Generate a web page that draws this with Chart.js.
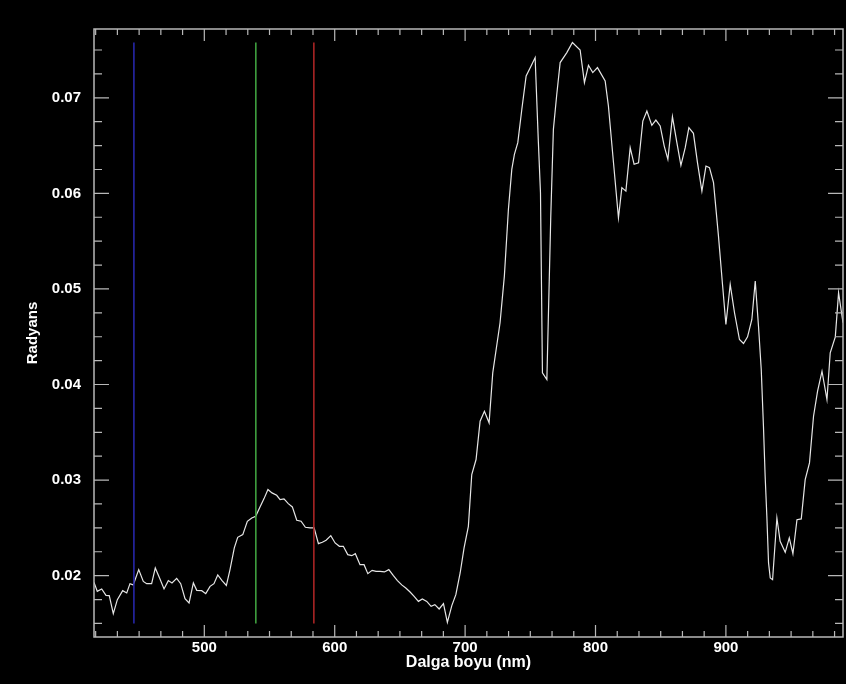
<!DOCTYPE html>
<html>
<head>
<meta charset="utf-8">
<script src="https://cdn.jsdelivr.net/npm/chart.js@4"></script>
<style>
    html, body { margin: 0; padding: 0; background: #000; }
    #spectrum { display: block; }
</style>
</head>
<body>
<canvas id="spectrum" width="846" height="684"></canvas>
<script>
// Spectrum (wavelength in nm, radiance)
const wavelengths = [
    415.4, 417.9, 421.3, 424.6, 427.1, 430.2, 433.3, 437.4, 440.5, 443.0,
    445.5, 449.7, 453.2, 455.8, 459.6, 462.4, 466.0, 469.1, 472.4, 475.2,
    478.8, 481.9, 485.2, 488.3, 491.6, 494.2, 498.0, 501.1, 504.4, 507.4,
    510.3, 513.6, 516.9, 519.7, 523.0, 525.6, 529.5, 533.0, 536.4, 539.4,
    542.7, 545.8, 548.8, 551.9, 555.5, 558.1, 561.1, 564.4, 567.5, 570.9,
    574.2, 577.5, 581.1, 584.2, 587.5, 590.5, 593.4, 597.0, 600.3, 603.6,
    606.6, 610.0, 613.1, 615.8, 619.4, 622.5, 625.4, 628.7, 631.7, 634.8,
    638.1, 641.5, 645.0, 648.1, 651.4, 654.5, 657.8, 660.9, 664.2, 667.2,
    670.6, 673.9, 676.8, 680.1, 683.4, 686.4, 689.8, 692.9, 696.2, 699.2,
    702.5, 705.1, 708.4, 711.5, 714.8, 718.4, 721.2, 726.8, 730.1, 733.2,
    735.8, 737.8, 740.4, 743.5, 746.8, 750.6, 753.7, 756.2, 757.8, 759.3,
    762.7, 765.7, 767.7, 770.3, 772.9, 778.0, 782.3, 788.2, 791.5, 794.6,
    797.9, 801.5, 807.4, 809.9, 813.8, 817.6, 820.2, 823.3, 826.6, 829.6,
    833.0, 836.3, 839.4, 843.2, 846.3, 849.6, 852.7, 855.5, 859.0, 862.4,
    865.5, 868.8, 871.6, 875.1, 878.2, 881.6, 884.7, 887.4, 890.5, 894.3,
    897.4, 900.0, 903.3, 906.6, 910.4, 913.5, 916.6, 919.9, 922.5, 925.0,
    927.1, 928.8, 930.1, 931.4, 932.7, 934.0, 935.8, 939.1, 941.6, 945.5,
    948.6, 951.4, 954.5, 957.8, 960.8, 964.1, 967.2, 970.3, 973.7, 977.5,
    980.0, 983.9, 986.4, 989.8
];
const radiance = [
    0.01930, 0.01836, 0.01861, 0.01794, 0.01791, 0.01602, 0.01749, 0.01843, 0.01819, 0.01916,
    0.01903, 0.02063, 0.01940, 0.01916, 0.01916, 0.02081, 0.01965, 0.01861, 0.01948, 0.01924,
    0.01972, 0.01916, 0.01759, 0.01714, 0.01924, 0.01846, 0.01843, 0.01812, 0.01888, 0.01916,
    0.02007, 0.01948, 0.01898, 0.02063, 0.02290, 0.02401, 0.02429, 0.02569, 0.02604, 0.02621,
    0.02719, 0.02806, 0.02901, 0.02866, 0.02841, 0.02796, 0.02803, 0.02754, 0.02719, 0.02579,
    0.02569, 0.02506, 0.02499, 0.02499, 0.02335, 0.02349, 0.02370, 0.02419, 0.02342, 0.02307,
    0.02307, 0.02220, 0.02209, 0.02230, 0.02115, 0.02115, 0.02021, 0.02055, 0.02045, 0.02045,
    0.02039, 0.02063, 0.02000, 0.01948, 0.01903, 0.01871, 0.01829, 0.01783, 0.01731, 0.01756,
    0.01731, 0.01679, 0.01696, 0.01651, 0.01707, 0.01511, 0.01686, 0.01801, 0.02028, 0.02290,
    0.02516, 0.03058, 0.03215, 0.03616, 0.03720, 0.03599, 0.04122, 0.04646, 0.05134, 0.05832,
    0.06251, 0.06408, 0.06531, 0.06880, 0.07228, 0.07333, 0.07421, 0.06531, 0.06007, 0.04122,
    0.04052, 0.05762, 0.06670, 0.07037, 0.07369, 0.07473, 0.07578, 0.07500, 0.07159, 0.07340,
    0.07264, 0.07316, 0.07176, 0.06914, 0.06321, 0.05745, 0.06060, 0.06024, 0.06478, 0.06304,
    0.06321, 0.06757, 0.06862, 0.06712, 0.06767, 0.06705, 0.06495, 0.06356, 0.06803, 0.06531,
    0.06293, 0.06478, 0.06688, 0.06628, 0.06321, 0.06024, 0.06286, 0.06269, 0.06112, 0.05553,
    0.05047, 0.04628, 0.05047, 0.04751, 0.04471, 0.04429, 0.04499, 0.04681, 0.05082, 0.04610,
    0.04157, 0.03563, 0.03040, 0.02621, 0.02133, 0.01976, 0.01958, 0.02604, 0.02359, 0.02244,
    0.02395, 0.02230, 0.02586, 0.02594, 0.03005, 0.03180, 0.03668, 0.03930, 0.04139, 0.03843,
    0.04332, 0.04499, 0.04960, 0.04646
];

// Band markers (blue, green, red)
const bandWavelengths = [446, 539.5, 584];
const bandColors = ['#2626a8', '#3f9f3f', '#a82424'];
const bandRange = [0.015, 0.0758];

// Axes
const xRange = [415.4, 989.8];
const yRange = [0.01358, 0.0772];
const xMajorTicks = [500, 600, 700, 800, 900];
const yMajorTicks = [0.02, 0.03, 0.04, 0.05, 0.06, 0.07];
const xMinorStep = 100 / 6;
const yMinorStep = 0.0025;

const axisColor = '#b8b8b8';
const fontFamily = '"Liberation Sans", Arial, sans-serif';

function minorValues(majors, step, min, max) {
    const out = [];
    const start = majors[0];
    for (let v = start; v >= min; v -= step) out.push(v);
    for (let v = start + step; v <= max; v += step) out.push(v);
    return out;
}

// Box and inward tick marks on all four sides
const frameTicks = {
    id: 'frameTicks',
    afterDraw(chart) {
        const {ctx, chartArea: a, scales: {x, y}} = chart;
        ctx.save();
        ctx.strokeStyle = axisColor;
        ctx.lineWidth = 1.5;
        ctx.strokeRect(a.left, a.top, a.right - a.left, a.bottom - a.top);

        ctx.lineWidth = 1.2;
        ctx.beginPath();
        minorValues(xMajorTicks, xMinorStep, xRange[0], xRange[1]).forEach(v => {
            const major = xMajorTicks.some(m => Math.abs(m - v) < 0.01);
            const len = major ? 12 : 6;
            const px = x.getPixelForValue(v);
            ctx.moveTo(px, a.bottom); ctx.lineTo(px, a.bottom - len);
            ctx.moveTo(px, a.top); ctx.lineTo(px, a.top + len);
        });
        minorValues(yMajorTicks, yMinorStep, yRange[0], yRange[1]).forEach(v => {
            const major = yMajorTicks.some(m => Math.abs(m - v) < 1e-6);
            const len = major ? 15 : 8;
            const py = y.getPixelForValue(v);
            ctx.moveTo(a.left, py); ctx.lineTo(a.left + len, py);
            ctx.moveTo(a.right, py); ctx.lineTo(a.right - len, py);
        });
        ctx.stroke();
        ctx.restore();
    }
};

const bandDatasets = bandWavelengths.map((w, i) => ({
    data: bandRange.map(v => ({x: w, y: v})),
    borderColor: bandColors[i],
    borderWidth: 1.6,
    pointRadius: 0
}));

new Chart(document.getElementById('spectrum'), {
    type: 'line',
    data: {
        datasets: [
            ...bandDatasets,
            {
                data: wavelengths.map((w, i) => ({x: w, y: radiance[i]})),
                borderColor: '#e6e6e6',
                borderWidth: 1.2,
                pointRadius: 0,
                tension: 0
            }
        ]
    },
    options: {
        responsive: false,
        animation: false,
        layout: { padding: { top: 29, right: 3, left: 0, bottom: 0 } },
        plugins: { legend: { display: false }, tooltip: { enabled: false } },
        scales: {
            x: {
                type: 'linear',
                min: xRange[0],
                max: xRange[1],
                afterBuildTicks: s => { s.ticks = xMajorTicks.map(v => ({value: v})); },
                afterFit: s => { s.height = 47; },
                grid: { display: false, drawTicks: false },
                border: { display: false },
                ticks: {
                    color: '#ffffff',
                    padding: 2,
                    maxRotation: 0,
                    font: { family: fontFamily, size: 15, weight: 'bold' },
                    callback: v => String(v)
                },
                title: {
                    display: true,
                    text: 'Dalga boyu (nm)',
                    color: '#ffffff',
                    font: { family: fontFamily, size: 16, weight: 'bold' },
                    padding: { top: 0, bottom: 12 }
                }
            },
            y: {
                type: 'linear',
                min: yRange[0],
                max: yRange[1],
                afterBuildTicks: s => { s.ticks = yMajorTicks.map(v => ({value: v})); },
                afterFit: s => { s.width = 94; },
                grid: { display: false, drawTicks: false },
                border: { display: false },
                ticks: {
                    color: '#ffffff',
                    padding: 13,
                    font: { family: fontFamily, size: 15, weight: 'bold' },
                    callback: v => v.toFixed(2)
                },
                title: {
                    display: true,
                    text: 'Radyans',
                    color: '#ffffff',
                    font: { family: fontFamily, size: 15, weight: 'bold' },
                    padding: { top: 24, bottom: 0 }
                }
            }
        }
    },
    plugins: [frameTicks]
});
</script>
</body>
</html>
